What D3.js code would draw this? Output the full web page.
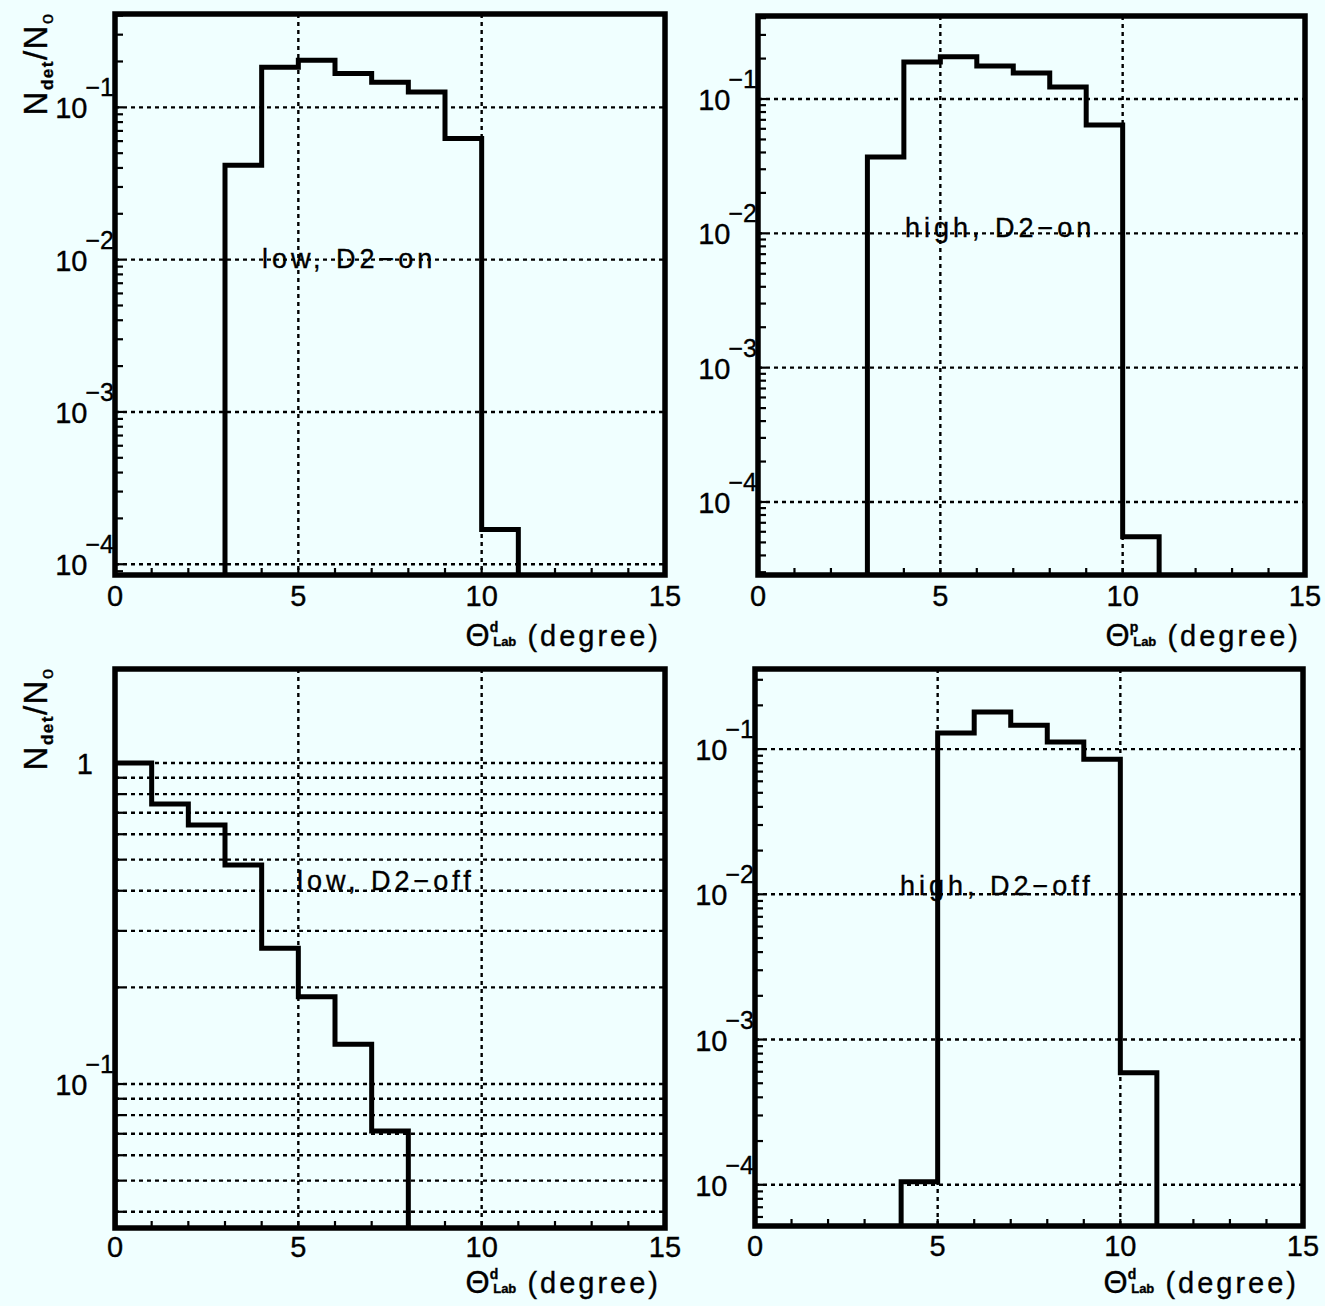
<!DOCTYPE html>
<html>
<head>
<meta charset="utf-8">
<script src="https://cdn.jsdelivr.net/npm/d3@7"></script>
<style>
  body { margin: 0; background: #f0ffff; }
  svg { display: block; background: #f0ffff; }
  text { font-family: "Liberation Sans", Arial, Helvetica, sans-serif; fill: #000; stroke: #000; stroke-width: 0.35px; }
</style>
</head>
<body>
<svg id="chart" width="1325" height="1306"></svg>
<script>
// Angular distributions N_det/N_0 in 1-degree bins from 0 to 15 degrees
const binEdges = d3.range(0, 16);

const lowD2on   = [0, 0, 0, 0.0416, 0.183, 0.204, 0.167, 0.146, 0.126, 0.0625, 1.69e-4, 0, 0, 0, 0];
const highD2on  = [0, 0, 0, 0.037, 0.189, 0.206, 0.176, 0.156, 0.123, 0.064, 5.5e-5, 0, 0, 0, 0];
const lowD2off  = [1.0, 0.745, 0.641, 0.481, 0.265, 0.187, 0.133, 0.0714, 0, 0, 0, 0, 0, 0, 0];
const highD2off = [0, 0, 0, 0, 1.05e-4, 0.129, 0.18, 0.146, 0.112, 0.085, 5.9e-4, 0, 0, 0, 0];

const xTickLabels = ["0", "5", "10", "15"];
const xTickValues = [0, 5, 10, 15];
const xGridValues = [5, 10];

const panelLabels = ["low, D2\u2212on", "high, D2\u2212on", "low, D2\u2212off", "high, D2\u2212off"];
const particleLabels = ["d", "p", "d", "d"];

const panels = [
  { values: lowD2on,   label: panelLabels[0], particle: particleLabels[0],
    box: { l: 115, t: 14,  r: 665,  b: 575 },  yDomain: [8.5e-5, 0.41],
    yLabels: [1e-1, 1e-2, 1e-3, 1e-4], fullGrid: false, yTitle: true,
    note: { x: 262, y: 268 }, labelDy: 31, titleY: 646 },
  { values: highD2on,  label: panelLabels[1], particle: particleLabels[1],
    box: { l: 758, t: 16,  r: 1305, b: 575 },  yDomain: [2.86e-5, 0.415],
    yLabels: [1e-1, 1e-2, 1e-3, 1e-4], fullGrid: false, yTitle: false,
    note: { x: 905, y: 237 }, labelDy: 31, titleY: 646 },
  { values: lowD2off,  label: panelLabels[2], particle: particleLabels[2],
    box: { l: 115, t: 669, r: 665,  b: 1228 }, yDomain: [0.0356, 1.963],
    yLabels: [1, 1e-1], fullGrid: true, yTitle: true,
    note: { x: 297, y: 890 }, labelDy: 29, titleY: 1293 },
  { values: highD2off, label: panelLabels[3], particle: particleLabels[3],
    box: { l: 755, t: 669, r: 1303, b: 1226 }, yDomain: [5.2e-5, 0.356],
    yLabels: [1e-1, 1e-2, 1e-3, 1e-4], fullGrid: false, yTitle: false,
    note: { x: 900, y: 895 }, labelDy: 30, titleY: 1293 }
];

const svg = d3.select("#chart");

// log-scale tick positions: 1..9 x 10^k inside the domain
function logMinorTicks(domain) {
  const lo = Math.floor(Math.log10(domain[0]));
  const hi = Math.ceil(Math.log10(domain[1]));
  const out = [];
  for (let k = lo; k <= hi; k++) {
    for (let m = 1; m <= 9; m++) {
      const v = m * Math.pow(10, k);
      if (v >= domain[0] && v <= domain[1]) out.push(v);
    }
  }
  return out;
}

panels.forEach((p, idx) => {
  const { l, t, r, b } = p.box;
  const x = d3.scaleLinear().domain([0, 15]).range([l, r]);
  const y = d3.scaleLog().domain(p.yDomain).range([b, t]);
  const g = svg.append("g");

  const clipId = "clip" + idx;
  svg.append("clipPath").attr("id", clipId)
    .append("rect").attr("x", l).attr("y", t).attr("width", r - l).attr("height", b - t);

  const minor = logMinorTicks(p.yDomain);
  const decades = minor.filter(v => Math.abs(Math.log10(v) - Math.round(Math.log10(v))) < 1e-9);
  const hGrid = p.fullGrid ? minor : decades;

  // dotted grid
  const grid = g.append("g").attr("stroke", "#000").attr("stroke-width", 2.4)
    .attr("stroke-dasharray", "4,4").attr("fill", "none");
  grid.selectAll("line.h").data(hGrid).join("line").attr("class", "h")
    .attr("x1", l).attr("x2", r).attr("y1", d => y(d)).attr("y2", d => y(d));
  grid.selectAll("line.v").data(xGridValues).join("line").attr("class", "v")
    .attr("x1", d => x(d)).attr("x2", d => x(d)).attr("y1", t).attr("y2", b);

  // histogram outline
  const nz = p.values.map((v, i) => v > 0 ? i : -1).filter(i => i >= 0);
  const i0 = nz[0], i1 = nz[nz.length - 1];
  const pts = [[binEdges[i0], p.yDomain[0]]];
  for (let i = i0; i <= i1; i++) {
    const v = p.values[i] > 0 ? p.values[i] : p.yDomain[0];
    pts.push([binEdges[i], v], [binEdges[i + 1], v]);
  }
  pts.push([binEdges[i1 + 1], p.yDomain[0]]);
  const line = d3.line().x(d => x(d[0])).y(d => y(d[1]));
  g.append("path").attr("d", line(pts)).attr("clip-path", `url(#${clipId})`)
    .attr("fill", "none").attr("stroke", "#000").attr("stroke-width", 5)
    .attr("stroke-linejoin", "miter");

  // inward ticks
  const ticks = g.append("g").attr("stroke", "#000").attr("stroke-width", 2.2);
  ticks.selectAll("line.yt").data(minor).join("line").attr("class", "yt")
    .attr("x1", l).attr("x2", l + 8).attr("y1", d => y(d)).attr("y2", d => y(d));
  ticks.selectAll("line.xt").data(d3.range(1, 15)).join("line").attr("class", "xt")
    .attr("x1", d => x(d)).attr("x2", d => x(d)).attr("y1", b).attr("y2", b - 7);

  // frame
  g.append("rect").attr("x", l).attr("y", t).attr("width", r - l).attr("height", b - t)
    .attr("fill", "none").attr("stroke", "#000").attr("stroke-width", 5.5);

  // y tick labels
  p.yLabels.forEach(v => {
    const e = Math.round(Math.log10(v));
    const tx = g.append("text").attr("y", y(v) + 11).attr("font-size", 29);
    if (e === 0) {
      tx.attr("x", l - 22).attr("text-anchor", "end").text("1");
    } else {
      tx.attr("x", l - 1).attr("text-anchor", "end");
      tx.append("tspan").text("10");
      tx.append("tspan").attr("dy", -22).attr("dx", -2).attr("font-size", 25).text("\u2212" + Math.abs(e));
    }
  });

  // x tick labels
  g.selectAll("text.xl").data(xTickValues).join("text").attr("class", "xl")
    .attr("x", d => x(d)).attr("y", b + p.labelDy).attr("text-anchor", "middle")
    .attr("font-size", 29).text((d, i) => xTickLabels[i]);

  // x axis title: Theta^particle_Lab (degree)
  const xt = g.append("text").attr("x", r - 4).attr("y", p.titleY)
    .attr("text-anchor", "end").attr("font-size", 29);
  xt.append("tspan").attr("font-size", 31).text("\u0398");
  xt.append("tspan").attr("dy", -14).attr("font-size", 14).attr("font-weight", "bold").text(p.particle);
  xt.append("tspan").attr("dy", 14).attr("dx", -5).attr("font-size", 13).attr("font-weight", "bold").text("Lab");
  xt.append("tspan").attr("letter-spacing", 3).text(" (degree)");

  // panel annotation
  g.append("text").attr("x", p.note.x).attr("y", p.note.y)
    .attr("font-size", 27).attr("letter-spacing", 4).text(p.label);

  // y axis title N_det / N_0
  if (p.yTitle) {
    const cy = t + 50;
    const yt = g.append("text").attr("transform", `translate(47,${cy}) rotate(-90)`)
      .attr("text-anchor", "middle").attr("font-size", 33).attr("letter-spacing", 1.5);
    yt.append("tspan").text("N");
    yt.append("tspan").attr("dy", 6).attr("font-size", 17).attr("font-weight", "bold").text("det");
    yt.append("tspan").attr("dy", -6).text("/N");
    yt.append("tspan").attr("dy", 6).attr("font-size", 18).text("o");
  }
});
</script>
</body>
</html>
